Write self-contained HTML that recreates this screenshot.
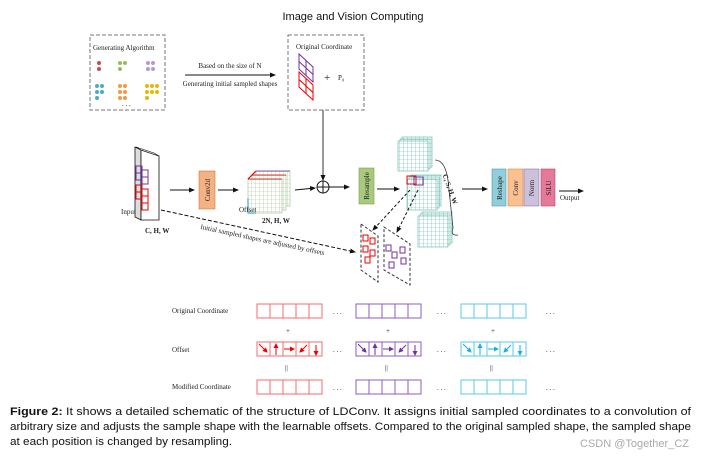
<!DOCTYPE html>
<html><head><meta charset="utf-8"><style>
html,body{margin:0;padding:0;background:#fff;width:706px;height:457px;overflow:hidden}
svg{display:block}
.s{font-family:"Liberation Serif",serif;font-size:7px;fill:#222}
.c{font-family:"Liberation Sans",sans-serif;font-size:11.2px;fill:#111}
</style></head><body>
<svg width="706" height="457" viewBox="0 0 706 457" xmlns="http://www.w3.org/2000/svg">
<defs>
<pattern id="gt" width="4" height="4" patternUnits="userSpaceOnUse"><rect width="4" height="4" fill="#fff"/><path d="M4 0V4H0" fill="none" stroke="#5bb5a8" stroke-width="0.6"/></pattern>
<pattern id="gg" width="4" height="4" patternUnits="userSpaceOnUse"><rect width="4" height="4" fill="#fff"/><path d="M4 0V4H0" fill="none" stroke="#9cc08a" stroke-width="0.6"/></pattern>
<marker id="a" markerWidth="6" markerHeight="6" refX="5" refY="3" orient="auto" markerUnits="userSpaceOnUse"><path d="M0,0.5L6,3L0,5.5z" fill="#111"/></marker>
<marker id="ar" markerWidth="5" markerHeight="5" refX="4" refY="2.5" orient="auto" markerUnits="userSpaceOnUse"><path d="M0,0L5,2.5L0,5z" fill="#e00"/></marker>
<marker id="ap" markerWidth="5" markerHeight="5" refX="4" refY="2.5" orient="auto" markerUnits="userSpaceOnUse"><path d="M0,0L5,2.5L0,5z" fill="#7030a0"/></marker>
<marker id="ab" markerWidth="5" markerHeight="5" refX="4" refY="2.5" orient="auto" markerUnits="userSpaceOnUse"><path d="M0,0L5,2.5L0,5z" fill="#1ab0e0"/></marker>
</defs>
<text x="353" y="20" text-anchor="middle" font-family="Liberation Sans,sans-serif" font-size="11" fill="#111">Image and Vision Computing</text>
<rect x="90" y="35" width="75" height="75" fill="none" stroke="#777" stroke-dasharray="4,2"/>
<text class="s" x="93" y="50">Generating Algorithm</text>
<g>
<circle cx="99" cy="63" r="2" fill="#c0504d"/><circle cx="99" cy="69" r="2" fill="#c0504d"/>
<circle cx="120" cy="63" r="2" fill="#9bbb59"/><circle cx="125" cy="63" r="2" fill="#9bbb59"/><circle cx="120" cy="69" r="2" fill="#9bbb59"/>
<circle cx="148" cy="63" r="2" fill="#b49ad0"/><circle cx="153" cy="63" r="2" fill="#b49ad0"/><circle cx="148" cy="69" r="2" fill="#b49ad0"/><circle cx="153" cy="69" r="2" fill="#b49ad0"/>
<g fill="#4bacc6"><circle cx="97" cy="86" r="2"/><circle cx="102" cy="86" r="2"/><circle cx="97" cy="92" r="2"/><circle cx="102" cy="92" r="2"/><circle cx="97" cy="98" r="2"/></g>
<g fill="#f79646"><circle cx="120" cy="86" r="2"/><circle cx="125" cy="86" r="2"/><circle cx="120" cy="92" r="2"/><circle cx="125" cy="92" r="2"/><circle cx="120" cy="98" r="2"/><circle cx="125" cy="98" r="2"/></g>
<g fill="#e6b800"><circle cx="147" cy="86" r="2"/><circle cx="152" cy="86" r="2"/><circle cx="157" cy="86" r="2"/><circle cx="147" cy="92" r="2"/><circle cx="152" cy="92" r="2"/><circle cx="157" cy="92" r="2"/><circle cx="147" cy="98" r="2"/></g>
<text class="s" x="122" y="106">. . .</text>
</g>
<line x1="185" y1="75" x2="275" y2="75" stroke="#111" marker-end="url(#a)"/>
<text class="s" x="230" y="68" text-anchor="middle">Based on the size of N</text>
<text class="s" x="230" y="86" text-anchor="middle">Generating initial sampled shapes</text>
<rect x="288" y="35" width="76" height="75" fill="none" stroke="#777" stroke-dasharray="4,2"/>
<text class="s" x="296" y="49">Original Coordinate</text>
<g fill="none" stroke-width="1">
<path d="M299 54L313 67V82L299 69Z M299 61.5L313 74.5 M306 60.5V75.5" stroke="#7030a0"/>
<path d="M299 72L313 85V100L299 87Z M299 79.5L313 92.5 M306 78.5V93.5" stroke="#e00"/>
</g>
<text x="324" y="81" font-size="11" fill="#222">+</text>
<text class="s" x="338" y="80">P₀</text>
<line x1="323" y1="110" x2="323" y2="180" stroke="#333" marker-end="url(#a)"/>
<circle cx="323" cy="187" r="6" fill="#fff" stroke="#111"/>
<line x1="317" y1="187" x2="329" y2="187" stroke="#111"/><line x1="323" y1="181" x2="323" y2="193" stroke="#111"/>
<!-- Input -->
<path d="M135 147L141 150V220L135 217Z" fill="#ddd" stroke="#111" stroke-width="0.8"/>
<path d="M141 150L159 156V220L141 220Z" fill="#fff" stroke="#111" stroke-width="0.8"/>
<path d="M136 147L154 153L159 156L141 150Z" fill="#eee" stroke="#111" stroke-width="0.6"/>
<g fill="none" stroke="#7030a0"><rect x="136" y="166" width="6" height="7"/><rect x="142" y="170" width="6" height="7"/><rect x="136" y="173" width="6" height="7"/><rect x="142" y="177" width="6" height="7"/></g>
<g fill="none" stroke="#e00"><rect x="136" y="185" width="6" height="7"/><rect x="142" y="189" width="6" height="7"/><rect x="136" y="192" width="6" height="7"/><rect x="142" y="196" width="6" height="7"/><rect x="142" y="203" width="6" height="7"/></g>
<text class="s" x="121" y="214">Input</text>
<text class="s" x="145" y="233" font-weight="bold">C, H, W</text>
<line x1="170" y1="190" x2="194" y2="190" stroke="#111" marker-end="url(#a)"/>
<rect x="199" y="171" width="16" height="38" fill="#f4b183" stroke="#c97a3e" stroke-width="0.6"/>
<text class="s" transform="translate(210,190) rotate(-90)" text-anchor="middle">Conv2d</text>
<line x1="218" y1="190" x2="238" y2="190" stroke="#111" marker-end="url(#a)"/>
<!-- offset cube -->
<g stroke="#9cc08a" stroke-width="0.6">
<rect x="256" y="171" width="34" height="35" fill="url(#gg)"/>
<rect x="252" y="175" width="34" height="35" fill="url(#gg)"/>
<rect x="248" y="179" width="34" height="34" fill="url(#gg)"/>
</g>
<path d="M248 179L256 171" stroke="#e00" stroke-width="1.2"/>
<path d="M248 179h34M252 175h34" stroke="#e00" stroke-width="0.8"/>
<path d="M256 171h34" stroke="#7030a0" stroke-width="0.8"/>
<path d="M248 198L248 213h8" fill="none" stroke="#4bacc6" stroke-width="1.2"/>
<text class="s" x="239" y="212">Offset</text>
<text class="s" x="262" y="223" font-weight="bold">2N, H, W</text>
<line x1="295" y1="190" x2="315" y2="188" stroke="#111" marker-end="url(#a)"/>
<line x1="329" y1="187" x2="349" y2="187" stroke="#111" marker-end="url(#a)"/>
<rect x="359" y="168" width="15" height="36" fill="#a9c97e" stroke="#7ea050" stroke-width="0.6"/>
<text class="s" transform="translate(369,186) rotate(-90)" text-anchor="middle">Resample</text>
<line x1="377" y1="189" x2="399" y2="189" stroke="#111" marker-end="url(#a)"/>
<!-- cubes -->
<g stroke="#5bb5a8" stroke-width="0.6">
<rect x="402" y="137" width="30" height="30" fill="url(#gt)"/><rect x="400" y="139" width="30" height="30" fill="url(#gt)"/><rect x="398" y="141" width="30" height="30" fill="url(#gt)"/>
<rect x="411" y="175" width="30" height="31" fill="url(#gt)"/><rect x="409" y="177" width="30" height="31" fill="url(#gt)"/><rect x="407" y="179" width="30" height="31" fill="url(#gt)"/>
<rect x="422" y="212" width="30" height="31" fill="url(#gt)"/><rect x="420" y="214" width="30" height="31" fill="url(#gt)"/><rect x="418" y="216" width="30" height="31" fill="url(#gt)"/>
</g>
<rect x="407" y="176" width="9" height="8" fill="none" stroke="#e00"/>
<rect x="414" y="177" width="9" height="8" fill="none" stroke="#7030a0"/>
<path d="M435 160Q445 160 448 180L453 228Q450 236 458 235" fill="none" stroke="#333" stroke-width="0.8"/>
<text class="s" transform="translate(448,190) rotate(70)" text-anchor="middle" font-weight="bold">C, S, H, W</text>
<line x1="462" y1="189" x2="487" y2="189" stroke="#111" marker-end="url(#a)"/>
<rect x="492" y="169" width="14" height="37" fill="#92cddc" stroke="#4a9bb0" stroke-width="0.6"/>
<rect x="508" y="169" width="15" height="37" fill="#fac090" stroke="#d08a50" stroke-width="0.6"/>
<rect x="524" y="169" width="15" height="37" fill="#ccc0da" stroke="#8f7aa8" stroke-width="0.6"/>
<rect x="541" y="169" width="14" height="37" fill="#e6799a" stroke="#b04a6a" stroke-width="0.6"/>
<text class="s" transform="translate(502,188) rotate(-90)" text-anchor="middle">Reshape</text>
<text class="s" transform="translate(518,188) rotate(-90)" text-anchor="middle">Conv</text>
<text class="s" transform="translate(534,188) rotate(-90)" text-anchor="middle">Norm</text>
<text class="s" transform="translate(551,188) rotate(-90)" text-anchor="middle">SiLU</text>
<line x1="559" y1="191" x2="583" y2="191" stroke="#111" marker-end="url(#a)"/>
<text class="s" x="560" y="200">Output</text>
<line x1="161" y1="210" x2="355" y2="252" stroke="#111" stroke-dasharray="4,2" marker-end="url(#a)"/>
<text class="s" transform="translate(262,242) rotate(12)" text-anchor="middle">Initial sampled shapes are adjusted by offsets</text>
<line x1="410" y1="190" x2="373" y2="230" stroke="#111" stroke-dasharray="3,2" marker-end="url(#a)"/>
<line x1="418" y1="190" x2="397" y2="232" stroke="#111" stroke-dasharray="3,2" marker-end="url(#a)"/>
<path d="M361 224L378 236V282L361 270Z" fill="#fff" stroke="#333" stroke-dasharray="3,2"/>
<path d="M384 227L410 244V285L384 270Z" fill="#fff" stroke="#333" stroke-dasharray="3,2"/>
<g fill="none" stroke="#e00"><rect x="363" y="235" width="5" height="6"/><rect x="370" y="238" width="5" height="6"/><rect x="363" y="246" width="5" height="6"/><rect x="370" y="250" width="5" height="6"/><rect x="365" y="257" width="5" height="6"/></g>
<g fill="none" stroke="#7030a0"><rect x="386" y="245" width="5" height="6"/><rect x="392" y="252" width="5" height="6"/><rect x="400" y="247" width="5" height="6"/><rect x="401" y="258" width="5" height="6"/><rect x="389" y="262" width="5" height="6"/></g>
<!-- rows -->
<text class="s" x="172" y="313">Original Coordinate</text>
<text class="s" x="172" y="352">Offset</text>
<text class="s" x="172" y="389">Modified Coordinate</text>
<g fill="none">
<g stroke="#f26d6d"><rect x="257" y="304" width="65" height="14"/><rect x="257" y="342" width="65" height="14"/><rect x="257" y="380" width="65" height="14"/>
<path d="M270 304v14M283 304v14M296 304v14M309 304v14M270 342v14M283 342v14M296 342v14M309 342v14M270 380v14M283 380v14M296 380v14M309 380v14"/></g>
<g stroke="#8c5cc4"><rect x="356" y="304" width="65" height="14"/><rect x="356" y="342" width="65" height="14"/><rect x="356" y="380" width="65" height="14"/>
<path d="M369 304v14M382 304v14M395 304v14M408 304v14M369 342v14M382 342v14M395 342v14M408 342v14M369 380v14M382 380v14M395 380v14M408 380v14"/></g>
<g stroke="#5ac8e8"><rect x="461" y="304" width="65" height="14"/><rect x="461" y="342" width="65" height="14"/><rect x="461" y="380" width="65" height="14"/>
<path d="M474 304v14M487 304v14M500 304v14M513 304v14M474 342v14M487 342v14M500 342v14M513 342v14M474 380v14M487 380v14M500 380v14M513 380v14"/></g>
</g>
<g stroke-width="1" fill="none">
<g stroke="#e00"><path d="M259 344l8 8" marker-end="url(#ar)"/><path d="M276 355v-11" marker-end="url(#ar)"/><path d="M284 349h10" marker-end="url(#ar)"/><path d="M307 345l-7 7" marker-end="url(#ar)"/><path d="M316 345v10" marker-end="url(#ar)"/></g>
<g stroke="#7030a0"><path d="M358 344l8 8" marker-end="url(#ap)"/><path d="M375 355v-11" marker-end="url(#ap)"/><path d="M383 349h10" marker-end="url(#ap)"/><path d="M406 345l-7 7" marker-end="url(#ap)"/><path d="M415 345v10" marker-end="url(#ap)"/></g>
<g stroke="#1ab0e0"><path d="M463 344l8 8" marker-end="url(#ab)"/><path d="M480 355v-11" marker-end="url(#ab)"/><path d="M488 349h10" marker-end="url(#ab)"/><path d="M511 345l-7 7" marker-end="url(#ab)"/><path d="M520 345v10" marker-end="url(#ab)"/></g>
</g>
<g class="s" font-size="9">
<text x="333" y="314">. . .</text><text x="437" y="314">. . .</text><text x="546" y="314">. . .</text>
<text x="333" y="352">. . .</text><text x="437" y="352">. . .</text><text x="546" y="352">. . .</text>
<text x="333" y="390">. . .</text><text x="437" y="390">. . .</text><text x="546" y="390">. . .</text>
<text x="286" y="333">+</text><text x="386" y="333">+</text><text x="491" y="333">+</text>
<text x="285" y="370">||</text><text x="385" y="370">||</text><text x="490" y="370">||</text>
</g>
<text class="c" x="10" y="415" textLength="681" lengthAdjust="spacingAndGlyphs"><tspan font-weight="bold">Figure 2:</tspan> It shows a detailed schematic of the structure of LDConv. It assigns initial sampled coordinates to a convolution of</text>
<text class="c" x="10" y="430" textLength="681" lengthAdjust="spacingAndGlyphs">arbitrary size and adjusts the sample shape with the learnable offsets. Compared to the original sampled shape, the sampled shape</text>
<text class="c" x="10" y="445" textLength="222" lengthAdjust="spacingAndGlyphs">at each position is changed by resampling.</text>
<text x="580" y="447" font-family="Liberation Sans,sans-serif" font-size="11" fill="#aaa">CSDN @Together_CZ</text>
</svg>
</body></html>
